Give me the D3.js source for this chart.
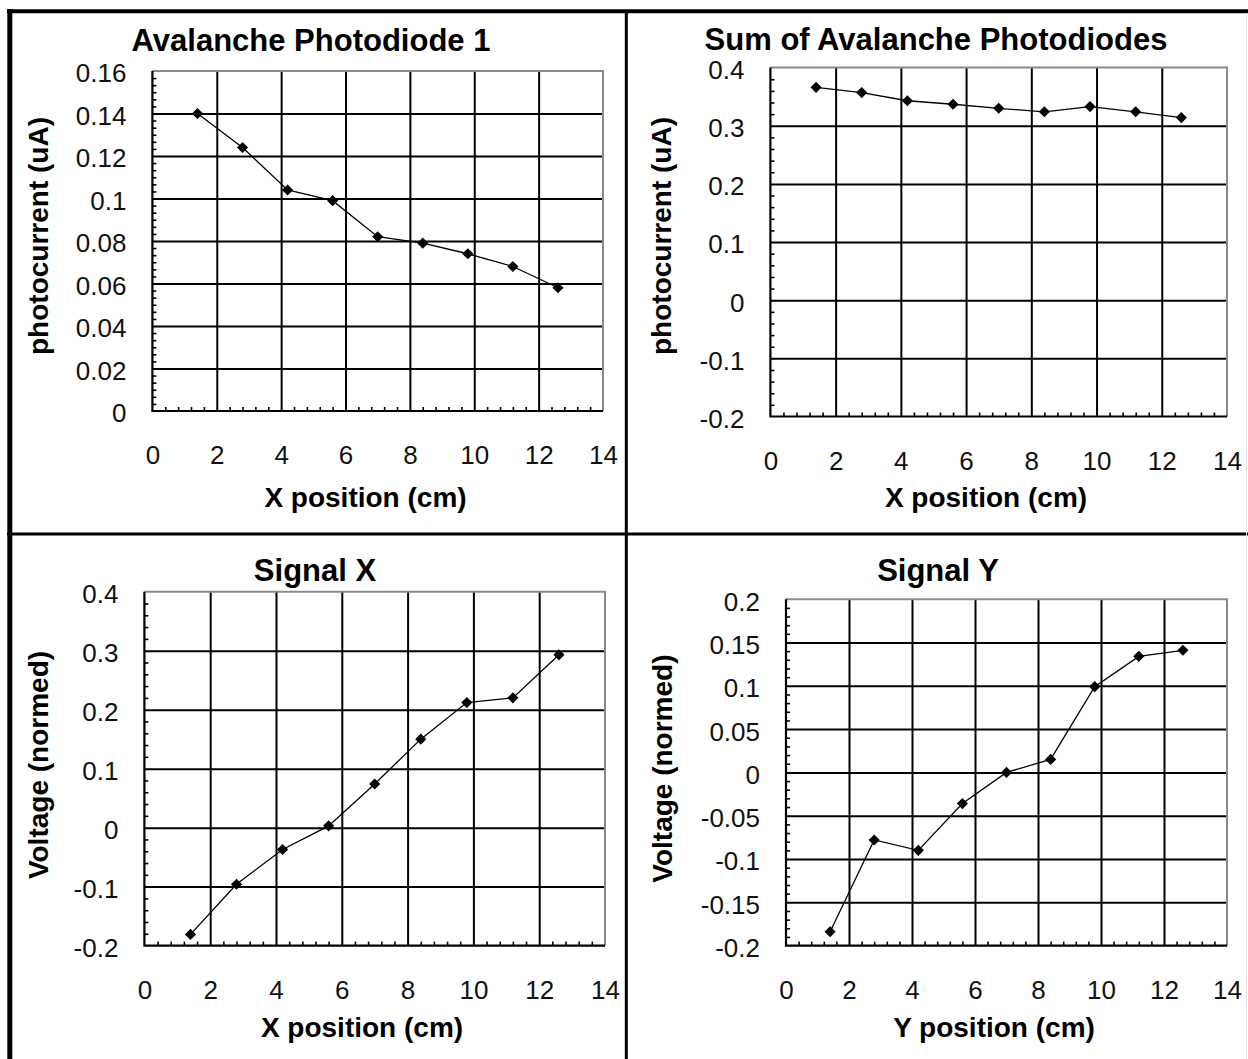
<!DOCTYPE html>
<html>
<head>
<meta charset="utf-8">
<script src="https://cdn.jsdelivr.net/npm/d3@7"></script>
<style>
  body { margin: 0; background: #fff; }
  svg { display: block; font-family: "Liberation Sans", Arial, sans-serif; }
  .grid line { stroke: #000; stroke-width: 2; }
  .minor line { stroke: #000; stroke-width: 1.6; }
  .ticklabels text { font-size: 26px; fill: #111; }
  .chart-title { font-size: 31px; font-weight: bold; }
  .axis-title { font-size: 28px; font-weight: bold; }
  .series { fill: none; stroke: #000; stroke-width: 1.3; }
</style>
</head>
<body>
<svg id="chart" width="1248" height="1059"></svg>
<script>
// positions along the detector (cm), same for every panel
const positions = [1.4, 2.8, 4.2, 5.6, 7.0, 8.4, 9.8, 11.2, 12.6];

// series values
const apd1Current = [0.140, 0.124, 0.104, 0.099, 0.082, 0.079, 0.074, 0.068, 0.058];
const apdSumCurrent = [0.366, 0.357, 0.343, 0.337, 0.330, 0.324, 0.333, 0.324, 0.314];
const signalX = [-0.181, -0.096, -0.037, 0.003, 0.074, 0.150, 0.212, 0.220, 0.293];
const signalY = [-0.184, -0.078, -0.090, -0.036, 0.000, 0.015, 0.099, 0.134, 0.141];

// tick labels
const xTicks = [0, 2, 4, 6, 8, 10, 12, 14];
const apd1Ticks = [0, 0.02, 0.04, 0.06, 0.08, 0.1, 0.12, 0.14, 0.16];
const sumTicks = [-0.2, -0.1, 0, 0.1, 0.2, 0.3, 0.4];
const signalXTicks = [-0.2, -0.1, 0, 0.1, 0.2, 0.3, 0.4];
const signalYTicks = [-0.2, -0.15, -0.1, -0.05, 0, 0.05, 0.1, 0.15, 0.2];

const svg = d3.select('#chart');

// outer frame of the four-up figure
const frame = svg.append('g');
frame.append('line').attr('x1', 7).attr('x2', 1248).attr('y1', 11.3).attr('y2', 11.3)
  .attr('stroke', '#000').attr('stroke-width', 4);
frame.append('line').attr('x1', 9.8).attr('x2', 9.8).attr('y1', 9).attr('y2', 1059)
  .attr('stroke', '#000').attr('stroke-width', 5);
frame.append('line').attr('x1', 626.3).attr('x2', 626.3).attr('y1', 10).attr('y2', 1059)
  .attr('stroke', '#000').attr('stroke-width', 3);
frame.append('line').attr('x1', 7).attr('x2', 1248).attr('y1', 534).attr('y2', 534)
  .attr('stroke', '#000').attr('stroke-width', 3);
frame.append('line').attr('x1', 1246.5).attr('x2', 1246.5).attr('y1', 13).attr('y2', 1059)
  .attr('stroke', '#e2e2e2').attr('stroke-width', 1);

const panels = [
  { title: 'Avalanche Photodiode  1', xLabel: 'X position (cm)', yLabel: 'photocurrent (uA)',
    values: apd1Current, yTicks: apd1Ticks, yMinorDiv: 6,
    left: 152.4, right: 603, top: 71, bottom: 411,
    titleAt: [311, 51], yLabelAt: [48, 236], xLabelAt: [365.5, 507] },
  { title: 'Sum of Avalanche Photodiodes', xLabel: 'X position (cm)', yLabel: 'photocurrent (uA)',
    values: apdSumCurrent, yTicks: sumTicks, yMinorDiv: 5,
    left: 770.4, right: 1227, top: 67.6, bottom: 416.5,
    titleAt: [936, 50], yLabelAt: [671, 236], xLabelAt: [986, 507] },
  { title: 'Signal X', xLabel: 'X position (cm)', yLabel: 'Voltage (normed)',
    values: signalX, yTicks: signalXTicks, yMinorDiv: 5,
    left: 144.4, right: 605, top: 591.7, bottom: 945.6,
    titleAt: [315, 581], yLabelAt: [48, 765], xLabelAt: [362, 1037] },
  { title: 'Signal Y', xLabel: 'Y position (cm)', yLabel: 'Voltage (normed)',
    values: signalY, yTicks: signalYTicks, yMinorDiv: 5,
    left: 786, right: 1227, top: 599.2, bottom: 945.6,
    titleAt: [938, 581], yLabelAt: [672, 768.6], xLabelAt: [994, 1037] }
];

// split each major interval into n parts, skipping the majors themselves
const minorValues = (ticks, n) => {
  const out = [];
  for (let i = 0; i < ticks.length - 1; i++) {
    const step = (ticks[i + 1] - ticks[i]) / n;
    for (let k = 1; k < n; k++) out.push(ticks[i] + k * step);
  }
  return out;
};

const fmt = d => String(d);

panels.forEach(p => {
  const w = p.right - p.left;
  const h = p.bottom - p.top;
  const x = d3.scaleLinear().domain([xTicks[0], xTicks[xTicks.length - 1]]).range([0, w]);
  const y = d3.scaleLinear()
    .domain([p.yTicks[0], p.yTicks[p.yTicks.length - 1]]).range([h, 0]);

  const g = svg.append('g').attr('transform', `translate(${p.left},${p.top})`);

  // gridlines (interior only; the border is drawn separately)
  g.append('g').attr('class', 'grid')
    .call(d3.axisLeft(y).tickValues(p.yTicks.slice(1, -1)).tickSize(-w).tickFormat(''))
    .call(s => s.select('.domain').remove());
  g.append('g').attr('class', 'grid')
    .attr('transform', `translate(0,${h})`)
    .call(d3.axisBottom(x).tickValues(xTicks.slice(1, -1)).tickSize(-h).tickFormat(''))
    .call(s => s.select('.domain').remove());

  // minor ticks pointing into the plot
  g.append('g').attr('class', 'minor')
    .call(d3.axisLeft(y).tickValues(minorValues(p.yTicks, p.yMinorDiv)).tickSize(-4).tickFormat(''))
    .call(s => s.select('.domain').remove());
  g.append('g').attr('class', 'minor')
    .attr('transform', `translate(0,${h})`)
    .call(d3.axisBottom(x).tickValues(minorValues(xTicks, 5)).tickSize(-4).tickFormat(''))
    .call(s => s.select('.domain').remove());

  // grey plot-area border on top and right
  g.append('path')
    .attr('d', `M0,0H${w}V${h}`)
    .attr('fill', 'none').attr('stroke', '#8a8a8a').attr('stroke-width', 2);

  // black axis lines left and bottom
  g.append('path')
    .attr('d', `M0,0V${h}H${w}`)
    .attr('fill', 'none').attr('stroke', '#000').attr('stroke-width', 2.2);

  // tick labels
  const yAx = g.append('g').attr('class', 'ticklabels')
    .call(d3.axisLeft(y).tickValues(p.yTicks).tickSize(0).tickPadding(26).tickFormat(fmt));
  yAx.select('.domain').remove();
  yAx.attr('font-family', null).attr('font-size', null);
  yAx.selectAll('text').attr('dy', '0.42em');

  const xAx = g.append('g').attr('class', 'ticklabels')
    .attr('transform', `translate(0,${h})`)
    .call(d3.axisBottom(x).tickValues(xTicks).tickSize(0).tickPadding(35).tickFormat(fmt));
  xAx.select('.domain').remove();
  xAx.attr('font-family', null).attr('font-size', null);

  // data line + diamond markers
  const pts = positions.map((px, i) => [px, p.values[i]]);
  g.append('path')
    .datum(pts)
    .attr('class', 'series')
    .attr('d', d3.line().x(d => x(d[0])).y(d => y(d[1])));

  g.selectAll('.marker').data(pts)
    .enter().append('path')
      .attr('class', 'marker')
      .attr('d', d3.symbol().type(d3.symbolSquare).size(62))
      .attr('transform', d => `translate(${x(d[0])},${y(d[1])}) rotate(45)`)
      .attr('fill', '#000');

  // titles
  svg.append('text')
    .attr('class', 'chart-title')
    .attr('x', p.titleAt[0]).attr('y', p.titleAt[1])
    .attr('text-anchor', 'middle')
    .text(p.title);

  svg.append('text')
    .attr('class', 'axis-title')
    .attr('x', p.xLabelAt[0]).attr('y', p.xLabelAt[1])
    .attr('text-anchor', 'middle')
    .text(p.xLabel);

  svg.append('text')
    .attr('class', 'axis-title')
    .attr('transform', `translate(${p.yLabelAt[0]},${p.yLabelAt[1]}) rotate(-90)`)
    .attr('text-anchor', 'middle')
    .text(p.yLabel);
});
</script>
</body>
</html>
